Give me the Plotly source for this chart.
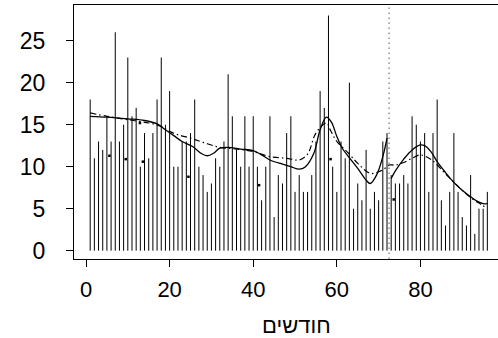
import plotly.graph_objects as go

# monthly counts (month 1..96)
months = list(range(1, 97))
counts = [18, 11, 13, 12, 16, 13, 26, 13, 15, 23, 16, 17, 10, 14, 11, 14, 18, 23, 15, 19,
          10, 10, 13, 13, 14, 18, 10, 9, 7, 8, 11, 10, 13, 21, 16, 12, 10, 16, 10, 16,
          10, 6, 10, 16, 4, 9, 8, 14, 16, 7, 9, 7, 7, 9, 13, 19, 17, 28, 10, 7,
          13, 11, 20, 5, 8, 6, 12, 5, 7, 6, 13, 14, 9, 8, 8, 9, 8, 16, 15, 13,
          14, 7, 14, 18, 6, 3, 7, 14, 7, 4, 3, 9, 2, 5, 5, 7]

# solid smooth, before the break
smooth1_x = [1, 5, 10, 14, 17, 19, 21, 23, 25.5, 27.5, 29, 30.5, 32, 34, 37, 40, 42, 44, 47, 49,
             51, 52.5, 54.5, 56, 57.5, 58.7, 60, 61.3, 62.8, 65, 67, 68, 69.5, 71, 72]
smooth1_y = [16.0, 15.9, 15.7, 15.5, 15.1, 14.4, 13.7, 13.0, 12.4, 11.6, 11.3, 11.6, 12.2, 12.3,
             12.1, 11.9, 11.4, 10.8, 10.3, 10.0, 9.7, 10.0, 11.6, 14.4, 15.9, 15.3, 13.6,
             12.2, 11.2, 9.8, 8.4, 8.0, 9.0, 11.2, 13.4]
# solid smooth, after the break
smooth2_x = [73, 74, 76, 78, 80, 81, 82.5, 84, 86, 87.5, 89.5, 91.5, 93.5, 95, 96]
smooth2_y = [8.6, 9.5, 10.9, 12.0, 12.6, 12.5, 11.8, 10.6, 9.3, 8.4, 7.4, 6.6, 5.9, 5.6, 5.6]

# dash-dot smooth
dd_x = [1, 5, 10, 15, 18, 20, 22, 25, 28, 32, 36, 40, 44, 48, 51, 53, 55, 57.5, 58.5, 60,
        62.8, 65, 68, 70, 71.5, 72.5, 74, 76, 78, 80, 82.7, 85.9, 89.1, 92.3, 94.5, 96]
dd_y = [16.4, 16.0, 15.6, 15.2, 14.8, 14.2, 13.8, 13.4, 12.9, 12.3, 12.1, 11.8, 11.2, 11.0, 10.8,
        11.5, 14.0, 15.2, 14.3, 13.0, 11.6, 10.4, 9.2, 9.4, 9.8, 10.2, 10.2, 10.5, 11.0, 11.4,
        10.8, 9.2, 7.6, 6.2, 5.5, 5.0]

# stray points
dots_x = [5.6, 9.5, 12.9, 13.6, 24.5, 41.4, 58.5, 73.6]
dots_y = [11.3, 10.9, 15.2, 10.6, 8.8, 7.8, 10.9, 6.1]

break_month = 72.5

x_ticks = [0, 20, 40, 60, 80]
y_ticks = [0, 5, 10, 15, 20, 25]
x_title = "חודשים"

sx, sy = [], []
for m, v in zip(months, counts):
    sx += [m, m, None]
    sy += [0, v, None]

fig = go.Figure()
fig.add_trace(go.Scatter(x=sx, y=sy, mode="lines", line=dict(color="black", width=1),
                         hoverinfo="skip", showlegend=False))
fig.add_trace(go.Scatter(x=dd_x, y=dd_y, mode="lines", line_shape="spline",
                         line=dict(color="black", width=1.2, dash="6px,3px,1.5px,3px"),
                         showlegend=False))
fig.add_trace(go.Scatter(x=smooth1_x, y=smooth1_y, mode="lines", line_shape="spline",
                         line=dict(color="black", width=1.3), showlegend=False))
fig.add_trace(go.Scatter(x=smooth2_x, y=smooth2_y, mode="lines", line_shape="spline",
                         line=dict(color="black", width=1.3), showlegend=False))
fig.add_trace(go.Scatter(x=dots_x, y=dots_y, mode="markers",
                         marker=dict(color="black", size=2.5, symbol="square"),
                         showlegend=False))

fig.add_vline(x=break_month, line=dict(color="#777777", width=1.2, dash="1.5px,3.5px"))

font = dict(family="Liberation Sans, Arial, sans-serif", size=22, color="black")

fig.add_annotation(text=x_title, xref="paper", yref="paper", x=0.524, y=0,
                   yshift=-66, xanchor="center", yanchor="middle", showarrow=False,
                   font=dict(size=22))

fig.update_layout(
    width=498, height=338,
    margin=dict(l=74, r=0, t=5, b=79),
    paper_bgcolor="white", plot_bgcolor="white",
    font=font,
    xaxis=dict(range=[-2.87, 98.55], tickvals=x_ticks, ticks="outside", ticklen=7,
               tickcolor="black", showline=True, linecolor="black", linewidth=1,
               mirror=True, showgrid=False, zeroline=False,
               tickfont=dict(size=22), ticklabelstandoff=4),
    yaxis=dict(range=[-0.99, 29.25], tickvals=y_ticks, ticks="outside", ticklen=7,
               tickcolor="black", showline=True, linecolor="black", linewidth=1,
               showgrid=False, zeroline=False, tickfont=dict(size=23),
               ticklabelstandoff=16),
)

fig.write_html("out.html")
